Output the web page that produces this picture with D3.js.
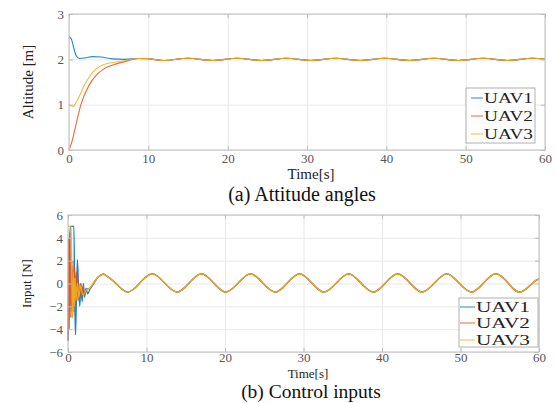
<!DOCTYPE html>
<html>
<head>
<meta charset="utf-8">
<script src="https://cdn.jsdelivr.net/npm/d3@7"></script>
<style>
  body { margin: 0; background: #fff; }
  svg, svg text { font-family: "Liberation Serif", "Times New Roman", serif; }
</style>
</head>
<body>
<script>
// ---- data ----
var seriesNames = ["UAV1", "UAV2", "UAV3"];
var seriesColors = ["#0072BD", "#D95319", "#EDB120"];

// altitude, transient part [t, z]
var altUav1 = [[0,2.5],[0.3,2.45],[0.6,2.25],[0.9,2.08],[1.3,2.02],[2,2.03],[3,2.06],[4,2.05],[5.5,2.01],[7,2.0],[8.8,2.02],[10,2.015]];
var altUav2 = [[0,0],[0.4,0.2],[0.8,0.5],[1.5,1.0],[2.5,1.42],[3.5,1.66],[4.5,1.8],[6,1.9],[7.5,1.97],[8.8,2.02],[10,2.015]];
var altUav3 = [[0,1.0],[0.5,0.96],[1,1.08],[2,1.45],[3,1.72],[4,1.86],[5.5,1.93],[7,1.97],[8.8,2.02],[10,2.015]];
// altitude, common steady part
var altSteady = [[10,2.015],[11.9,1.975],[13.45,2.0],[15,2.025],[16.55,2.0],[18.1,1.975],[19.65,2.0],[21.2,2.025],[22.75,2.0],[24.3,1.975],[25.85,2.0],[27.4,2.025],[28.95,2.0],[30.5,1.975],[32.05,2.0],[33.6,2.025],[35.15,2.0],[36.7,1.975],[38.25,2.0],[39.8,2.025],[41.35,2.0],[42.9,1.975],[44.45,2.0],[46,2.025],[47.55,2.0],[49.1,1.975],[50.65,2.0],[52.2,2.025],[53.75,2.0],[55.3,1.975],[56.85,2.0],[58.4,2.025],[60,2.005]];

// control input, transient part [t, u]
var inUav1 = [[0,-5],[0.1,-3],[0.2,3],[0.3,5],[0.75,5],[0.85,-1],[0.95,-4.5],[1.05,-2],[1.2,2.1],[1.35,-0.5],[1.5,-2.0],[1.65,0],[1.8,-1.6],[1.95,0],[2.1,-1.2],[2.3,-0.4],[2.5,-0.9],[2.8,-0.5],[3.2,-0.1],[3.7,0.45],[4.5,0.85]];
var inUav2 = [[0,-5],[0.05,4],[0.15,-4],[0.25,4.5],[0.35,-3],[0.45,2],[0.55,-3],[0.65,2],[0.75,-2.5],[0.85,1.5],[0.95,-2],[1.05,1],[1.15,-1.5],[1.25,0.5],[1.4,-1.5],[1.55,0],[1.7,-1.2],[1.9,-0.3],[2.1,-1],[2.4,-0.5],[2.8,-0.4],[3.3,0.1],[3.8,0.55],[4.5,0.85]];
var inUav3 = [[0,5],[0.4,5],[0.5,0],[0.6,-3],[0.7,1],[0.8,-2],[0.9,0.5],[1.0,-1.5],[1.2,0],[1.4,-1.2],[1.6,-0.2],[1.9,-1],[2.3,-0.6],[2.8,-0.4],[3.3,0.1],[3.8,0.55],[4.5,0.85]];
// control input, common steady part
var inSteady = [[4.5,0.85],[6.05,0.05],[7.6,-0.75],[9.15,0.05],[10.75,0.85],[12.3,0.05],[13.9,-0.75],[15.45,0.05],[17,0.85],[18.55,0.05],[20.1,-0.75],[21.7,0.05],[23.25,0.85],[24.8,0.05],[26.4,-0.75],[27.95,0.05],[29.5,0.85],[31.05,0.05],[32.6,-0.75],[34.2,0.05],[35.75,0.85],[37.3,0.05],[38.9,-0.75],[40.45,0.05],[42,0.85],[43.55,0.05],[45.1,-0.75],[46.7,0.05],[48.25,0.85],[49.8,0.05],[51.4,-0.75],[52.95,0.05],[54.5,0.85],[56.05,0.05],[57.6,-0.75],[59.2,0.05],[60,0.4]];

var xTicks = [0, 10, 20, 30, 40, 50, 60];
var altTicks = [0, 1, 2, 3];
var inTicks = [-6, -4, -2, 0, 2, 4, 6];

var w = 556, h = 403;
var svg = d3.select("body").append("svg").attr("width", w).attr("height", h);

function panel(opt) {
  var x = d3.scaleLinear().domain([0, 60]).range([opt.left, opt.right]);
  var y = d3.scaleLinear().domain(opt.yDom).range([opt.bottom, opt.top]);
  var g = svg.append("g");

  // grid
  g.append("g").attr("transform", "translate(0," + opt.bottom + ")")
    .call(d3.axisBottom(x).tickValues(xTicks).tickSize(-(opt.bottom - opt.top)).tickFormat(""))
    .call(function(s){ s.select(".domain").remove(); s.selectAll("line").attr("stroke", "#e8e8e8"); });
  g.append("g").attr("transform", "translate(" + opt.left + ",0)")
    .call(d3.axisLeft(y).tickValues(opt.yTicks).tickSize(-(opt.right - opt.left)).tickFormat(""))
    .call(function(s){ s.select(".domain").remove(); s.selectAll("line").attr("stroke", "#e8e8e8"); });

  // lines: transient with monotone curve, steady part smooth
  var lineT = d3.line().x(function(d){ return x(d[0]); }).y(function(d){ return y(d[1]); })
    .curve(d3.curveMonotoneX);
  var lineS = d3.line().x(function(d){ return x(d[0]); }).y(function(d){ return y(d[1]); })
    .curve(d3.curveNatural);
  opt.series.forEach(function(s, i) {
    g.append("path").datum(s)
      .attr("fill", "none").attr("stroke", seriesColors[i])
      .attr("stroke-width", opt.lw).attr("stroke-opacity", opt.op)
      .attr("d", lineT);
    g.append("path").datum(opt.steady)
      .attr("fill", "none").attr("stroke", seriesColors[i])
      .attr("stroke-width", opt.lw).attr("stroke-opacity", opt.op)
      .attr("d", lineS);
  });

  // frame + ticks
  g.append("rect").attr("x", opt.left).attr("y", opt.top)
    .attr("width", opt.right - opt.left).attr("height", opt.bottom - opt.top)
    .attr("fill", "none").attr("stroke", "#bdbdbd");

  var fmt = d3.format("d");
  var axB = g.append("g").attr("transform", "translate(0," + opt.bottom + ")")
    .call(d3.axisBottom(x).tickValues(xTicks).tickSize(-4).tickPadding(opt.xpad).tickFormat(fmt));
  var axL = g.append("g").attr("transform", "translate(" + opt.left + ",0)")
    .call(d3.axisLeft(y).tickValues(opt.yTicks).tickSize(-4).tickPadding(5).tickFormat(fmt));
  var axR = g.append("g").attr("transform", "translate(" + opt.right + ",0)")
    .call(d3.axisRight(y).tickValues(opt.yTicks).tickSize(-4).tickFormat(""));
  var axT = g.append("g").attr("transform", "translate(0," + opt.top + ")")
    .call(d3.axisTop(x).tickValues(xTicks).tickSize(-4).tickFormat(""));
  [axB, axL, axR, axT].forEach(function(a) {
    a.attr("font-family", "Liberation Serif").attr("font-size", 13);
    a.select(".domain").remove();
    a.selectAll("line").attr("stroke", "#bdbdbd");
    a.selectAll("text").attr("fill", "#555");
  });

  // y label
  svg.append("text").attr("transform", "translate(" + opt.ylx + "," + ((opt.top + opt.bottom) / 2) + ") rotate(-90)")
    .attr("text-anchor", "middle").attr("dy", "0.35em").attr("font-size", opt.ylsize).attr("fill", "#222")
    .text(opt.ylabel);
  // x label
  svg.append("text").attr("x", opt.xlx).attr("y", opt.xly).attr("text-anchor", "middle")
    .attr("font-size", opt.xlsize).attr("fill", "#222").text("Time[s]");
  // caption
  svg.append("text").attr("x", opt.capx).attr("y", opt.capy).attr("text-anchor", "middle")
    .attr("font-size", opt.capsize).attr("fill", "#111").text(opt.caption);

  // legend
  var L = opt.legend;
  svg.append("rect").attr("x", L.x).attr("y", L.y).attr("width", L.w).attr("height", L.h)
    .attr("fill", "#fff").attr("stroke", "#b0b0b0");
  seriesNames.forEach(function(n, i) {
    var yy = L.rows[i];
    svg.append("line").attr("x1", L.lx1).attr("x2", L.lx2).attr("y1", yy).attr("y2", yy)
      .attr("stroke", seriesColors[i]).attr("stroke-width", 1.2).attr("stroke-opacity", 0.7);
    svg.append("text").attr("x", L.tx).attr("y", yy).attr("dy", "0.36em")
      .attr("font-size", "14px").attr("fill", "#222")
      .attr("textLength", L.tw).attr("lengthAdjust", "spacingAndGlyphs").text(n);
  });
}

panel({
  left: 69, right: 545, top: 14, bottom: 150,
  yDom: [0, 3], yTicks: altTicks,
  series: [altUav1, altUav2, altUav3], steady: altSteady,
  lw: 1.1, op: 0.85, xpad: 4,
  ylabel: "Altitude [m]", ylsize: "15px", ylx: 28,
  xlx: 311, xly: 179, xlsize: "15px", capx: 302, capy: 201, capsize: "20px",
  caption: "(a) Attitude angles",
  legend: { x: 466, y: 88, w: 69, h: 55, rows: [98, 116, 134], lx1: 471, lx2: 483, tx: 484, tw: 49 }
});

panel({
  left: 68, right: 539, top: 215, bottom: 352,
  yDom: [-6, 6], yTicks: inTicks,
  series: [inUav1, inUav2, inUav3], steady: inSteady,
  lw: 1.3, op: 0.9, xpad: 1,
  ylabel: "Input [N]", ylsize: "13px", ylx: 26,
  xlx: 308, xly: 377.5, xlsize: "13px", capx: 311, capy: 398, capsize: "19.5px",
  caption: "(b) Control inputs",
  legend: { x: 459, y: 298, w: 79, h: 49, rows: [307, 323, 340], lx1: 460, lx2: 475, tx: 476, tw: 54 }
});
</script>
</body>
</html>
